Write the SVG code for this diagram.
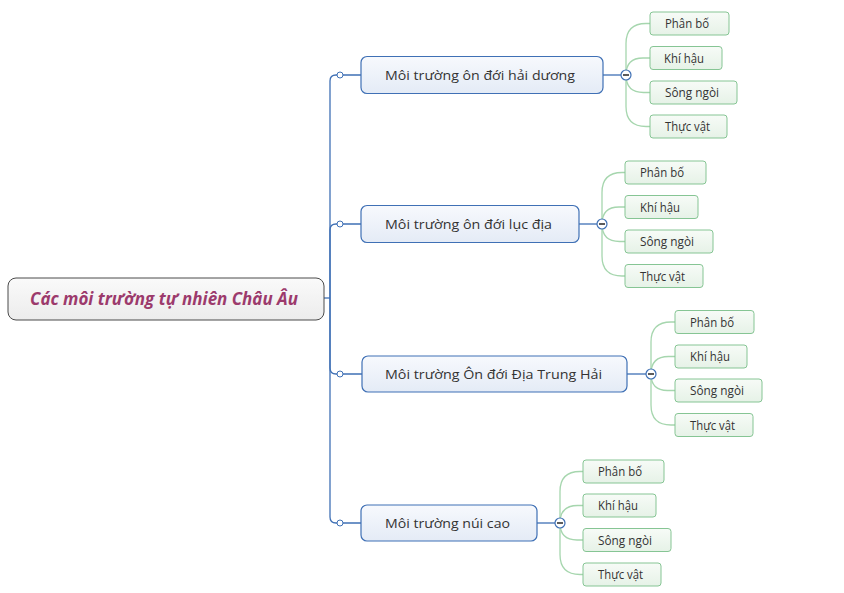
<svg xmlns="http://www.w3.org/2000/svg" width="844" height="593" viewBox="0 0 844 593">
<defs>
<linearGradient id="gRoot" x1="0" y1="0" x2="0" y2="1"><stop offset="0" stop-color="#fafafa"/><stop offset="1" stop-color="#ececec"/></linearGradient>
<linearGradient id="gMain" x1="0" y1="0" x2="0" y2="1"><stop offset="0" stop-color="#f7f9fd"/><stop offset="1" stop-color="#e4ebf6"/></linearGradient>
<linearGradient id="gLeaf" x1="0" y1="0" x2="0" y2="1"><stop offset="0" stop-color="#f7fbf7"/><stop offset="1" stop-color="#e6f2e7"/></linearGradient>
</defs>
<style>
.root{fill:url(#gRoot);stroke:#4a4a4a;stroke-width:1}
.main{fill:url(#gMain);stroke:#3f70b5;stroke-width:1.2}
.leaf{fill:url(#gLeaf);stroke:#86c594;stroke-width:1}
.bl{fill:none;stroke:#3f70b5;stroke-width:1.3}
.gl{fill:none;stroke:#a6d6ae;stroke-width:1.3}
.dot{fill:#fff;stroke:#3f70b5;stroke-width:1}
.col{fill:#fff;stroke:#3f70b5;stroke-width:1.2}
.minus{stroke:#333;stroke-width:1.6}
.rt{font-family:"Open Sans","Liberation Sans",sans-serif;font-size:17px;font-weight:bold;font-style:italic;fill:#9c3a6c}
.mt{font-family:"Open Sans","Liberation Sans",sans-serif;font-size:13.5px;fill:#333}
.lt{font-family:"Open Sans","Liberation Sans",sans-serif;font-size:12px;fill:#333}
</style>
<g id="connectors">
<path class="bl" d="M324,298 L330,298"/>
<path class="bl" d="M330,298 L330,81 Q330,75 336,75 L361,75"/>
<path class="bl" d="M330,298 L330,230 Q330,224 336,224 L361,224"/>
<path class="bl" d="M330,298 L330,368 Q330,374 336,374 L362,374"/>
<path class="bl" d="M330,298 L330,517 Q330,523 336,523 L361,523"/>
<path class="bl" d="M603,75 L621,75"/>
<path class="bl" d="M579,224 L597,224"/>
<path class="bl" d="M627,374 L646,374"/>
<path class="bl" d="M537,523 L555,523"/>
<path class="gl" d="M626,75 L626,43.5 Q626,23.5 646,23.5 L650,23.5"/>
<path class="gl" d="M626,75 Q626,58 643,58 L650,58"/>
<path class="gl" d="M626,75 Q626,92.5 643.5,92.5 L650,92.5"/>
<path class="gl" d="M626,75 L626,106.5 Q626,126.5 646,126.5 L650,126.5"/>
<path class="gl" d="M602,224 L602,192.5 Q602,172.5 622,172.5 L625,172.5"/>
<path class="gl" d="M602,224 Q602,207 619,207 L625,207"/>
<path class="gl" d="M602,224 Q602,241.5 619.5,241.5 L625,241.5"/>
<path class="gl" d="M602,224 L602,256 Q602,276 622,276 L625,276"/>
<path class="gl" d="M651,374 L651,342 Q651,322 671,322 L675,322"/>
<path class="gl" d="M651,374 Q651,356.5 668.5,356.5 L675,356.5"/>
<path class="gl" d="M651,374 Q651,390.5 667.5,390.5 L675,390.5"/>
<path class="gl" d="M651,374 L651,405 Q651,425 671,425 L675,425"/>
<path class="gl" d="M560,523 L560,491.5 Q560,471.5 580,471.5 L583,471.5"/>
<path class="gl" d="M560,523 Q560,505.5 577.5,505.5 L583,505.5"/>
<path class="gl" d="M560,523 Q560,540 577,540 L583,540"/>
<path class="gl" d="M560,523 L560,554.5 Q560,574.5 580,574.5 L583,574.5"/>
<circle class="dot" cx="340" cy="75" r="3"/>
<circle class="dot" cx="340" cy="224" r="3"/>
<circle class="dot" cx="340" cy="374" r="3"/>
<circle class="dot" cx="340" cy="523" r="3"/>
<circle class="col" cx="626" cy="75" r="5"/><path class="minus" d="M623,75 L629,75"/>
<circle class="col" cx="602" cy="224" r="5"/><path class="minus" d="M599,224 L605,224"/>
<circle class="col" cx="651" cy="374" r="5"/><path class="minus" d="M648,374 L654,374"/>
<circle class="col" cx="560" cy="523" r="5"/><path class="minus" d="M557,523 L563,523"/>
</g>
<g id="root">
<rect class="root" x="8" y="278" width="316" height="42" rx="8"/>
<text class="rt" x="30" y="305" textLength="268" lengthAdjust="spacingAndGlyphs">Các môi trường tự nhiên Châu Âu</text>
</g>
<g id="n1">
<rect class="main" x="361" y="56.5" width="242" height="37" rx="6"/>
<text class="mt" x="385" y="80" textLength="190" lengthAdjust="spacingAndGlyphs">Môi trường ôn đới hải dương</text>
</g>
<g id="n2">
<rect class="main" x="361" y="205.5" width="218" height="37" rx="6"/>
<text class="mt" x="385" y="229" textLength="167" lengthAdjust="spacingAndGlyphs">Môi trường ôn đới lục địa</text>
</g>
<g id="n3">
<rect class="main" x="362" y="356" width="265" height="36" rx="6"/>
<text class="mt" x="385" y="379" textLength="217" lengthAdjust="spacingAndGlyphs">Môi trường Ôn đới Địa Trung Hải</text>
</g>
<g id="n4">
<rect class="main" x="361" y="505" width="176" height="36" rx="6"/>
<text class="mt" x="385" y="528" textLength="125" lengthAdjust="spacingAndGlyphs">Môi trường núi cao</text>
</g>
<g id="n1a"><rect class="leaf" x="650" y="12" width="79" height="23" rx="3"/><text class="lt" x="665" y="28" textLength="44" lengthAdjust="spacingAndGlyphs">Phân bố</text></g>
<g id="n1b"><rect class="leaf" x="650" y="46.5" width="72" height="23" rx="3"/><text class="lt" x="664" y="62.5" textLength="40" lengthAdjust="spacingAndGlyphs">Khí hậu</text></g>
<g id="n1c"><rect class="leaf" x="650" y="81" width="87" height="23" rx="3"/><text class="lt" x="665" y="97" textLength="54" lengthAdjust="spacingAndGlyphs">Sông ngòi</text></g>
<g id="n1d"><rect class="leaf" x="650" y="115" width="77" height="23" rx="3"/><text class="lt" x="665" y="131" textLength="45" lengthAdjust="spacingAndGlyphs">Thực vật</text></g>
<g id="n2a"><rect class="leaf" x="625" y="161" width="81" height="23" rx="3"/><text class="lt" x="640" y="177" textLength="44" lengthAdjust="spacingAndGlyphs">Phân bố</text></g>
<g id="n2b"><rect class="leaf" x="625" y="195.5" width="73" height="23" rx="3"/><text class="lt" x="640" y="211.5" textLength="40" lengthAdjust="spacingAndGlyphs">Khí hậu</text></g>
<g id="n2c"><rect class="leaf" x="625" y="230" width="88" height="23" rx="3"/><text class="lt" x="640" y="246" textLength="54" lengthAdjust="spacingAndGlyphs">Sông ngòi</text></g>
<g id="n2d"><rect class="leaf" x="625" y="264.5" width="78" height="23" rx="3"/><text class="lt" x="640" y="280.5" textLength="45" lengthAdjust="spacingAndGlyphs">Thực vật</text></g>
<g id="n3a"><rect class="leaf" x="675" y="310.5" width="79" height="23" rx="3"/><text class="lt" x="690" y="326.5" textLength="44" lengthAdjust="spacingAndGlyphs">Phân bố</text></g>
<g id="n3b"><rect class="leaf" x="675" y="345" width="72" height="23" rx="3"/><text class="lt" x="690" y="361" textLength="40" lengthAdjust="spacingAndGlyphs">Khí hậu</text></g>
<g id="n3c"><rect class="leaf" x="675" y="379" width="87" height="23" rx="3"/><text class="lt" x="690" y="395" textLength="54" lengthAdjust="spacingAndGlyphs">Sông ngòi</text></g>
<g id="n3d"><rect class="leaf" x="675" y="413.5" width="78" height="23" rx="3"/><text class="lt" x="690" y="429.5" textLength="45" lengthAdjust="spacingAndGlyphs">Thực vật</text></g>
<g id="n4a"><rect class="leaf" x="583" y="460" width="81" height="23" rx="3"/><text class="lt" x="598" y="476" textLength="44" lengthAdjust="spacingAndGlyphs">Phân bố</text></g>
<g id="n4b"><rect class="leaf" x="583" y="494" width="73" height="23" rx="3"/><text class="lt" x="598" y="510" textLength="40" lengthAdjust="spacingAndGlyphs">Khí hậu</text></g>
<g id="n4c"><rect class="leaf" x="583" y="528.5" width="88" height="23" rx="3"/><text class="lt" x="598" y="544.5" textLength="54" lengthAdjust="spacingAndGlyphs">Sông ngòi</text></g>
<g id="n4d"><rect class="leaf" x="583" y="563" width="78" height="23" rx="3"/><text class="lt" x="598" y="579" textLength="45" lengthAdjust="spacingAndGlyphs">Thực vật</text></g>
</svg>
